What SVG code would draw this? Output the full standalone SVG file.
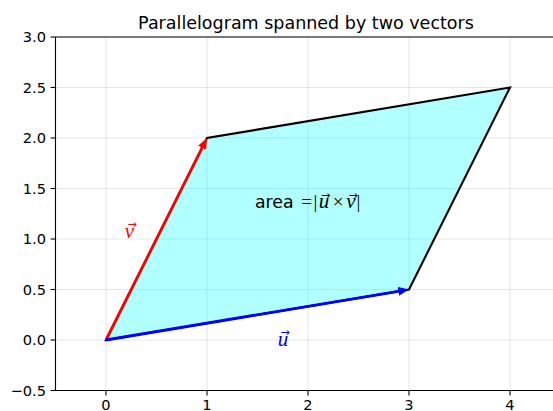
<svg xmlns="http://www.w3.org/2000/svg" width="553" height="411" viewBox="0 0 553 411">
<style>
.grid line{stroke:#b0b0b0;stroke-opacity:0.3;stroke-width:1.1}
.tick{stroke:#000;stroke-width:1.1}
.spine{stroke:#000;stroke-width:1.1;fill:none}
.tl{font-family:"DejaVu Sans",sans-serif;font-size:14.6px;fill:#000}
.title{font-family:"DejaVu Sans",sans-serif;font-size:17.5px;fill:#000}
.m{font-family:"Liberation Serif","DejaVu Serif",serif;font-size:19px}
.mi{font-family:"Liberation Serif","DejaVu Serif",serif;font-style:italic;font-size:21px}
.acc{font-family:"DejaVu Sans",sans-serif;font-size:11px}
</style>
<defs>
<marker id="hr" markerUnits="userSpaceOnUse" markerWidth="12" markerHeight="10" refX="0" refY="4.5" orient="auto"><path d="M0,0 L11,4.5 L0,9 z" fill="#ff0000"/></marker>
<marker id="hb" markerUnits="userSpaceOnUse" markerWidth="12" markerHeight="10" refX="0" refY="4.5" orient="auto"><path d="M0,0 L11,4.5 L0,9 z" fill="#0000ff"/></marker>
</defs>
<rect width="553" height="411" fill="#fff"/>
<g class="grid">
<line x1="106" y1="37" x2="106" y2="390.5"/>
<line x1="207" y1="37" x2="207" y2="390.5"/>
<line x1="308" y1="37" x2="308" y2="390.5"/>
<line x1="409" y1="37" x2="409" y2="390.5"/>
<line x1="510" y1="37" x2="510" y2="390.5"/>
<line x1="55.5" y1="390.5" x2="553" y2="390.5"/>
<line x1="55.5" y1="340" x2="553" y2="340"/>
<line x1="55.5" y1="289.5" x2="553" y2="289.5"/>
<line x1="55.5" y1="239" x2="553" y2="239"/>
<line x1="55.5" y1="188.5" x2="553" y2="188.5"/>
<line x1="55.5" y1="138" x2="553" y2="138"/>
<line x1="55.5" y1="87.5" x2="553" y2="87.5"/>
<line x1="55.5" y1="37" x2="553" y2="37"/>
</g>
<g id="parallelogram">
<polygon points="106,340 409,289.5 510,87.5 207,138" fill="#00ffff" fill-opacity="0.3" stroke="#000" stroke-width="2.1" stroke-linejoin="miter"/>
</g>
<g id="connectors">
<line x1="106" y1="340" x2="202.1" y2="147.8" stroke="#ff0000" stroke-width="2.8" marker-end="url(#hr)"/>
<line x1="106" y1="340" x2="398.2" y2="291.3" stroke="#0000ff" stroke-width="2.8" marker-end="url(#hb)"/>
</g>
<g id="axes">
<path class="spine" d="M55.5,37 H553 M55.5,37 V390.5 H553"/>
<g class="tick">
<line x1="106" y1="390.5" x2="106" y2="395.4"/>
<line x1="207" y1="390.5" x2="207" y2="395.4"/>
<line x1="308" y1="390.5" x2="308" y2="395.4"/>
<line x1="409" y1="390.5" x2="409" y2="395.4"/>
<line x1="510" y1="390.5" x2="510" y2="395.4"/>
<line x1="50.6" y1="390.5" x2="55.5" y2="390.5"/>
<line x1="50.6" y1="340" x2="55.5" y2="340"/>
<line x1="50.6" y1="289.5" x2="55.5" y2="289.5"/>
<line x1="50.6" y1="239" x2="55.5" y2="239"/>
<line x1="50.6" y1="188.5" x2="55.5" y2="188.5"/>
<line x1="50.6" y1="138" x2="55.5" y2="138"/>
<line x1="50.6" y1="87.5" x2="55.5" y2="87.5"/>
<line x1="50.6" y1="37" x2="55.5" y2="37"/>
</g>
<g class="tl" text-anchor="middle">
<text x="106" y="409.5">0</text>
<text x="207" y="409.5">1</text>
<text x="308" y="409.5">2</text>
<text x="409" y="409.5">3</text>
<text x="510" y="409.5">4</text>
</g>
<g class="tl" text-anchor="end">
<text x="46" y="395.8">−0.5</text>
<text x="46" y="345.3">0.0</text>
<text x="46" y="294.8">0.5</text>
<text x="46" y="244.3">1.0</text>
<text x="46" y="193.8">1.5</text>
<text x="46" y="143.3">2.0</text>
<text x="46" y="92.8">2.5</text>
<text x="46" y="42.3">3.0</text>
</g>
<text class="title" x="306" y="28.5" text-anchor="middle">Parallelogram spanned by two vectors</text>
</g>
<g id="label-v" fill="#ff0000">
<text class="mi" x="129.5" y="237.5" text-anchor="middle">v</text>
<text class="acc" x="132" y="228" text-anchor="middle">→</text>
</g>
<g id="label-u" fill="#0000ff">
<text class="mi" x="283" y="345.5" text-anchor="middle">u</text>
<text class="acc" x="285" y="336" text-anchor="middle">→</text>
</g>
<g id="label-area" fill="#000">
<text x="255" y="208" style="font-family:'DejaVu Sans',sans-serif;font-size:17.3px">area</text>
<text class="m" x="306.5" y="208" text-anchor="middle">=</text>
<text class="m" x="315.5" y="208" text-anchor="middle">|</text>
<text class="mi" x="324" y="208" text-anchor="middle">u</text>
<text class="acc" x="325.5" y="199" text-anchor="middle">→</text>
<text class="m" x="338" y="208" text-anchor="middle">×</text>
<text class="mi" x="351" y="208" text-anchor="middle">v</text>
<text class="acc" x="353" y="199" text-anchor="middle">→</text>
<text class="m" x="358.5" y="208" text-anchor="middle">|</text>
</g>
</svg>
